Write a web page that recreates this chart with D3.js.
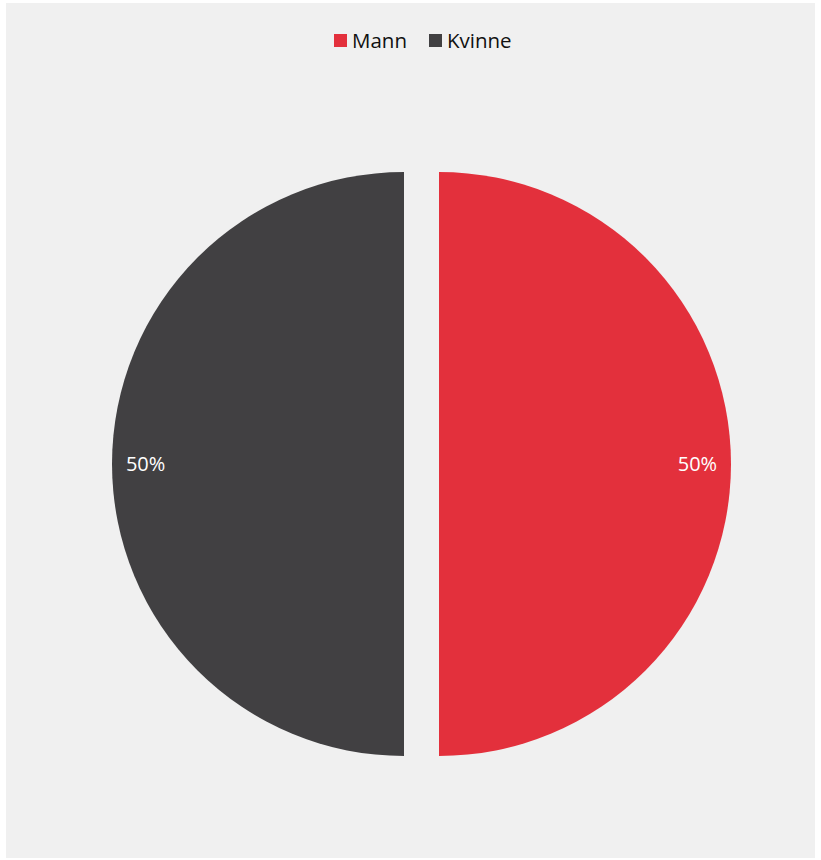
<!DOCTYPE html>
<html><head><meta charset="utf-8">
<script src="https://cdn.jsdelivr.net/npm/d3@7"></script>
<style>html,body{margin:0;padding:0;background:#fff;}svg{display:block;}</style>
</head><body>
<script>
const categories = ["Mann", "Kvinne"];
const values = [50, 50];
const labels = ["50%", "50%"];
const colors = ["#e3303c", "#414042"];

const W = 821, H = 860;
const svg = d3.select("body").append("svg").attr("width", W).attr("height", H);
svg.append("rect").attr("x", 6).attr("y", 3).attr("width", 809).attr("height", 855).attr("fill", "#f0f0f0");

const cx = 421.5, cy = 464, r = 292, off = 17.5;
const pie = d3.pie().sort(null).value(d => d.v);
const arcs = pie(categories.map((c, i) => ({c, v: values[i], l: labels[i], col: colors[i]})));
const arc = d3.arc().innerRadius(0).outerRadius(r);
const labelArc = d3.arc().innerRadius(r * 0.885).outerRadius(r * 0.885);

const g = svg.append("g").attr("transform", `translate(${cx},${cy})`);
const slices = g.selectAll("g.s").data(arcs).join("g").attr("class", "s")
  .attr("transform", d => {
    const a = (d.startAngle + d.endAngle) / 2;
    return `translate(${Math.sin(a) * off},${-Math.cos(a) * off})`;
  });
slices.append("path").attr("d", arc).attr("fill", d => d.data.col);
slices.append("text")
  .attr("transform", d => `translate(${labelArc.centroid(d)})`)
  .attr("text-anchor", "middle").attr("dy", "0.35em")
  .attr("fill", "#ffffff").attr("font-family", "'Open Sans', sans-serif").attr("font-size", 20)
  .text(d => d.data.l);

// legend
const legend = svg.append("g").attr("font-family", "'Open Sans', sans-serif").attr("font-size", 20.5);
const lx = [334, 429];
categories.forEach((c, i) => {
  legend.append("rect").attr("x", lx[i]).attr("y", 34).attr("width", 13).attr("height", 13).attr("fill", colors[i]);
  legend.append("text").attr("x", lx[i] + 18).attr("y", 48).attr("fill", "#111").text(c);
});
</script>
</body></html>
